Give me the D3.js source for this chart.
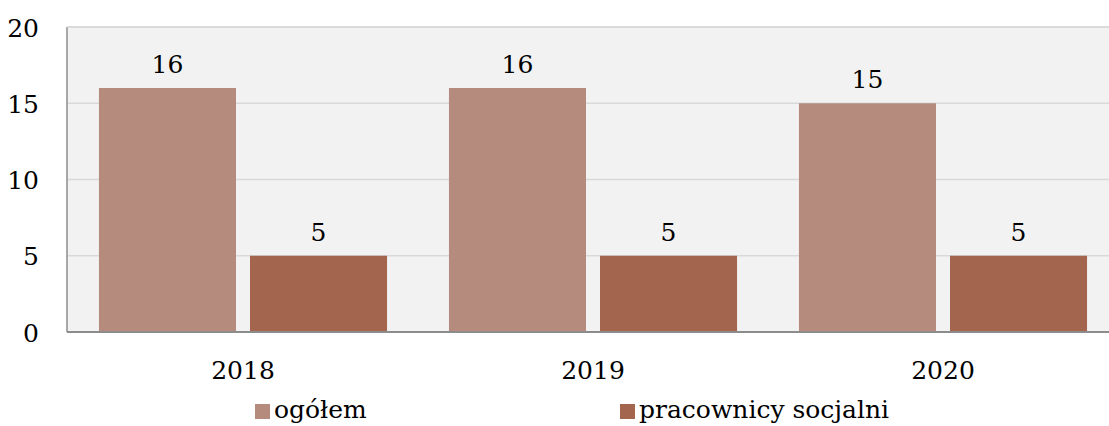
<!DOCTYPE html>
<html>
<head>
<meta charset="utf-8">
<script src="https://cdn.jsdelivr.net/npm/d3@7"></script>
<style>
  html, body { margin: 0; padding: 0; background: #ffffff; }
  svg { display: block; }
  text { font-family: "DejaVu Serif", "Liberation Serif", serif; fill: #000; }
</style>
</head>
<body>
<svg id="chart" width="1109" height="426"></svg>
<script>
const categories = ["2018", "2019", "2020"];
const seriesNames = ["ogółem", "pracownicy socjalni"];
const ogolem = [16, 16, 15];
const pracownicy = [5, 5, 5];
const yTicks = [0, 5, 10, 15, 20];
const colors = ["#b58b7e", "#a4654e"];

const W = 1109, H = 426;
const margin = { left: 67, top: 27, right: -9, bottom: 94 };
const x0 = margin.left, x1 = W - margin.right;
const yTop = margin.top, yBot = H - margin.bottom;

const svg = d3.select("#chart");
const fontSize = 25;

const x = d3.scaleBand().domain(categories).range([x0 + 1, x1]).paddingInner(0).paddingOuter(0);
const xs = d3.scaleBand().domain(seriesNames).range([0, x.bandwidth()]).paddingInner(0.0927).paddingOuter(0.205);
const y = d3.scaleLinear().domain([0, 20]).range([yBot, yTop]);

// plot background
svg.append("rect").attr("x", x0).attr("y", yTop).attr("width", x1 - x0).attr("height", yBot - yTop).attr("fill", "#f2f2f2");

// gridlines
svg.append("g").selectAll("line").data(yTicks.filter(d => d > 0)).join("line")
  .attr("x1", x0).attr("x2", x1)
  .attr("y1", d => y(d)).attr("y2", d => y(d))
  .attr("stroke", "#d9d9d9").attr("stroke-width", 1.5);

// bars
const rows = categories.map((c, i) => ({ cat: c, vals: [ogolem[i], pracownicy[i]] }));
const groups = svg.append("g").selectAll("g").data(rows).join("g")
  .attr("transform", d => `translate(${x(d.cat)},0)`);
groups.selectAll("rect").data(d => d.vals.map((v, j) => ({ v, s: seriesNames[j], j }))).join("rect")
  .attr("x", d => xs(d.s)).attr("width", xs.bandwidth())
  .attr("y", d => y(d.v)).attr("height", d => y(0) - y(d.v))
  .attr("fill", d => colors[d.j]);
groups.selectAll("text").data(d => d.vals.map((v, j) => ({ v, s: seriesNames[j], j }))).join("text")
  .attr("x", d => xs(d.s) + xs.bandwidth() / 2)
  .attr("y", d => y(d.v) - 15)
  .attr("text-anchor", "middle").attr("font-size", fontSize)
  .text(d => d.v);

// y axis
const yAxis = d3.axisLeft(y).tickValues(yTicks).tickSize(0).tickPadding(0);
const gy = svg.append("g").attr("transform", `translate(${x0 - 28},0)`).call(yAxis);
gy.select(".domain").remove();
gy.selectAll("text").attr("font-size", fontSize).attr("font-family", "DejaVu Serif").attr("fill", "#000").attr("dy", "0.36em");
svg.append("line").attr("x1", x0).attr("x2", x0).attr("y1", yTop).attr("y2", yBot).attr("stroke", "#8c8c8c").attr("stroke-width", 1.5);
svg.append("line").attr("x1", x0).attr("x2", x1).attr("y1", yTop).attr("y2", yTop).attr("stroke", "#d9d9d9").attr("stroke-width", 1.5);

// x axis
const xAxis = d3.axisBottom(x).tickSize(0).tickPadding(0);
const gx = svg.append("g").attr("transform", `translate(0,${yBot})`).call(xAxis);
gx.select(".domain").remove();
gx.selectAll("text").attr("font-size", fontSize).attr("font-family", "DejaVu Serif").attr("fill", "#000").attr("dy", null).attr("y", 47);
svg.append("line").attr("x1", x0).attr("x2", x1).attr("y1", yBot).attr("y2", yBot).attr("stroke", "#8c8c8c").attr("stroke-width", 2);

// legend
const legendX = [255, 620];
const lg = svg.append("g").selectAll("g").data(seriesNames).join("g")
  .attr("transform", (d, i) => `translate(${legendX[i]},404)`);
lg.append("rect").attr("width", 15).attr("height", 15).attr("fill", (d, i) => colors[i]);
lg.append("text").attr("x", 19).attr("y", 14).attr("font-size", fontSize).text(d => d);
</script>
</body>
</html>
